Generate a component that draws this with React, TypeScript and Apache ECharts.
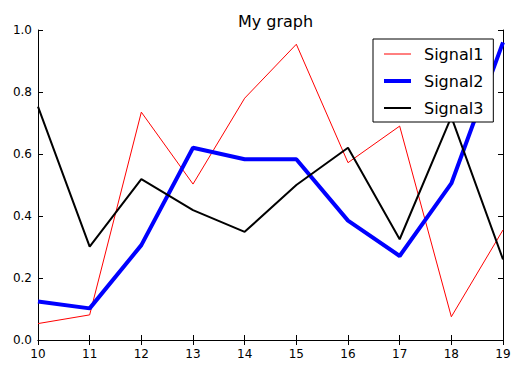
import React, { useEffect, useRef } from "react";
import * as echarts from "echarts";

const xValues = [10, 11, 12, 13, 14, 15, 16, 17, 18, 19];
const signal1 = [0.053, 0.081, 0.735, 0.503, 0.78, 0.954, 0.572, 0.69, 0.075, 0.355];
const signal2 = [0.124, 0.102, 0.306, 0.62, 0.583, 0.583, 0.385, 0.271, 0.505, 0.96];
const signal3 = [0.753, 0.301, 0.519, 0.419, 0.349, 0.5, 0.62, 0.325, 0.72, 0.26];
const seriesNames = ["Signal1", "Signal2", "Signal3"];
const seriesColors = ["#ff0000", "#0000ff", "#000000"];
const seriesWidths = [1, 4, 2];

const FONT = "DejaVu Sans";

export default function App() {
  const ref = useRef<HTMLDivElement>(null);
  useEffect(() => {
    if (!ref.current) return;
    const chart = echarts.init(ref.current, null, { renderer: "svg" });
    const pair = (arr: number[]) => xValues.map((x, i) => [x, arr[i]]);
    const axisBase = {
      axisLine: { show: true, lineStyle: { color: "#000", width: 1 } },
      axisTick: { show: true, inside: true, length: 5, lineStyle: { color: "#000" } },
      splitLine: { show: false },
    };
    const values = [signal1, signal2, signal3];
    chart.setOption({
      animation: false,
      backgroundColor: "#fff",
      title: {
        text: "My graph",
        left: 270.5,
        textAlign: "center",
        top: 8,
        textStyle: { fontFamily: FONT, fontSize: 16, fontWeight: "normal", color: "#000" },
      },
      legend: {
        data: seriesNames.map((n, i) => ({
          name: n,
          lineStyle: { width: seriesWidths[i], color: seriesColors[i] },
        })),
        orient: "vertical",
        left: 373,
        top: 39,
        backgroundColor: "#fff",
        borderColor: "#000",
        borderWidth: 1,
        borderRadius: 0,
        padding: [7, 10, 6, 9],
        itemWidth: 27,
        itemHeight: 14,
        itemGap: 11,
        itemStyle: { opacity: 0 },
        textStyle: { fontFamily: FONT, fontSize: 16, color: "#000", padding: [0, 0, 0, 8] },
      },
      grid: { left: 38, right: 18, top: 30, bottom: 30, containLabel: false },
      xAxis: [
        {
          ...axisBase,
          type: "value",
          min: 10,
          max: 19,
          interval: 1,
          position: "bottom",
          axisLabel: { fontFamily: FONT, fontSize: 12, color: "#000", margin: 8 },
        },
        {
          ...axisBase,
          type: "value",
          min: 10,
          max: 19,
          interval: 1,
          position: "top",
          axisLabel: { show: false },
        },
      ],
      yAxis: [
        {
          ...axisBase,
          type: "value",
          min: 0,
          max: 1,
          interval: 0.2,
          position: "left",
          axisLabel: {
            fontFamily: FONT,
            fontSize: 12,
            color: "#000",
            margin: 6,
            formatter: (v: number) => v.toFixed(1),
          },
        },
        {
          ...axisBase,
          type: "value",
          min: 0,
          max: 1,
          interval: 0.2,
          position: "right",
          axisLabel: { show: false },
        },
      ],
      series: seriesNames.map((n, i) => ({
        name: n,
        type: "line",
        data: pair(values[i]),
        symbol: "none",
        lineStyle: { color: seriesColors[i], width: seriesWidths[i] },
        itemStyle: { color: seriesColors[i] },
      })),
    });
    return () => chart.dispose();
  }, []);
  return <div ref={ref} style={{ width: 521, height: 370, position: "absolute", left: 0, top: 0 }} />;
}
